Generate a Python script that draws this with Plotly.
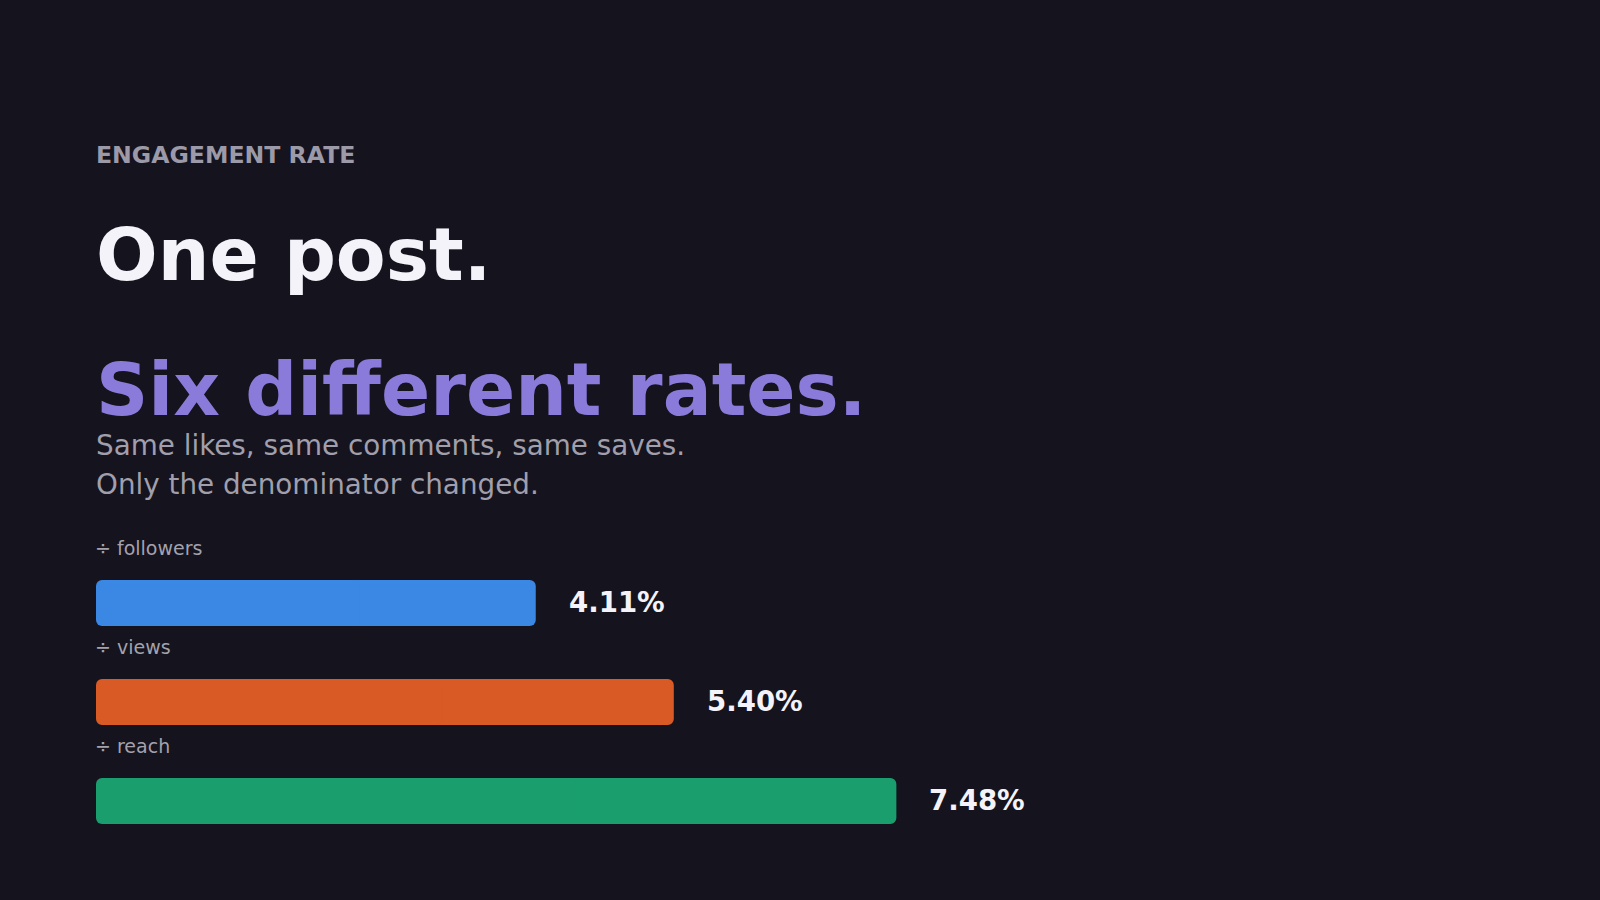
import plotly.graph_objects as go

# data
denominators = ["÷ followers", "÷ views", "÷ reach"]
rates = [4.11, 5.40, 7.48]
bar_colors = ["#3a88e4", "#d95a24", "#1a9e6e"]
value_labels = ["4.11%", "5.40%", "7.48%"]

BG = "#15131e"
FONT = "DejaVu Sans"

W, H = 1600, 900
left, right = 96, 96
top, bottom = 504, 48
plot_h = H - top - bottom
px_per_row = 99
px_per_pct = 107


def py(pixel):
    # page pixel -> paper y
    return (H - bottom - pixel) / plot_h


rows = list(range(len(rates)))
bar_w = 46 / px_per_row

fig = go.Figure()
# each bar drawn as two overlapping halves so both ends get rounded corners
fig.add_trace(go.Bar(
    base=[v * 0.4 for v in rates],
    x=[v * 0.6 for v in rates],
    y=rows, orientation="h", width=bar_w,
    marker=dict(color=bar_colors, line=dict(width=0)),
    hoverinfo="skip",
))
fig.add_trace(go.Bar(
    base=[v * 0.6 for v in rates],
    x=[-v * 0.6 for v in rates],
    y=rows, orientation="h", width=bar_w,
    marker=dict(color=bar_colors, line=dict(width=0)),
    hoverinfo="skip",
))

annotations = []
for i, (lab, v, txt) in enumerate(zip(denominators, rates, value_labels)):
    annotations.append(dict(
        x=0, y=i, xref="x", yref="y", text=lab, showarrow=False,
        xanchor="left", yanchor="middle", xshift=-3, yshift=55,
        font=dict(family=FONT, size=19, color="#a3a2ad"),
    ))
    annotations.append(dict(
        x=v, y=i, xref="x", yref="y", text="<b>%s</b>" % txt, showarrow=False,
        xanchor="left", yanchor="middle", xshift=31, yshift=1,
        font=dict(family=FONT, size=27.6, color="#f4f3fa"),
    ))

heads = [
    ("<b>ENGAGEMENT RATE</b>", 155, 23.6, "#9c9aa8"),
    ("<b>One post.</b>", 255, 72.6, "#f4f3fa"),
    ("<b>Six different rates.</b>", 390, 72.6, "#8a7bdb"),
    ("Same likes, same comments, same saves.", 445, 27.8, "#a09fab"),
    ("Only the denominator changed.", 484, 27.8, "#a09fab"),
]
for txt, pix, size, col in heads:
    annotations.append(dict(
        x=0, y=py(pix), xref="paper", yref="paper", text=txt, showarrow=False,
        xanchor="left", yanchor="middle", xshift=-2,
        font=dict(family=FONT, size=size, color=col),
    ))

plot_w = W - left - right
fig.update_layout(
    width=W, height=H,
    margin=dict(l=left, r=right, t=top, b=bottom),
    paper_bgcolor=BG, plot_bgcolor=BG,
    barmode="overlay",
    barcornerradius=6,
    showlegend=False,
    xaxis=dict(range=[0, plot_w / px_per_pct], visible=False, fixedrange=True),
    yaxis=dict(range=[-1 + plot_h / px_per_row, -1], visible=False, fixedrange=True),
    annotations=annotations,
)

fig.write_html(
    "out.html",
    config={"displayModeBar": False},
    post_script="document.body.style.margin='0';document.body.style.background='%s';" % BG,
)
